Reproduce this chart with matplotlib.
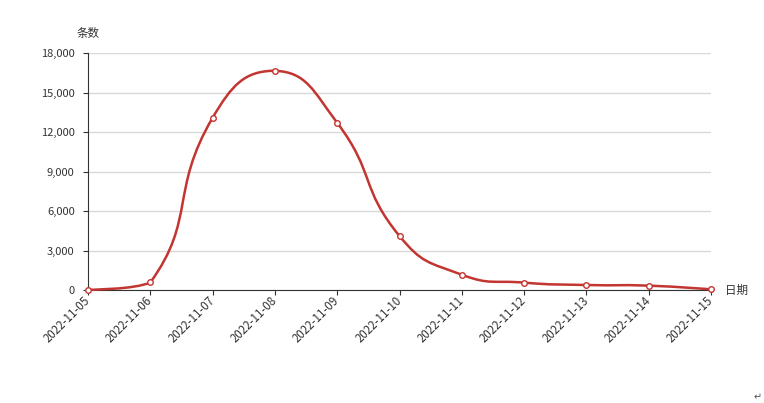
import matplotlib
matplotlib.use("Agg")
from matplotlib import pyplot as plt
from matplotlib.path import Path
from matplotlib.patches import PathPatch
import numpy as np

plt.rcParams['font.family'] = ['Noto Sans CJK SC', 'DejaVu Sans']

dates = ['2022-11-05', '2022-11-06', '2022-11-07', '2022-11-08', '2022-11-09', '2022-11-10',
         '2022-11-11', '2022-11-12', '2022-11-13', '2022-11-14', '2022-11-15']
counts = [20, 570, 13080, 16650, 12700, 4100, 1160, 560, 380, 330, 50]
y_ticks = [0, 3000, 6000, 9000, 12000, 15000, 18000]

line_color = '#c23531'
text_color = '#333333'
axis_color = '#333333'


def smooth_path(xs, ys, sx, sy, smooth=0.5):
    # bezier smoothing with control points kept inside the data's bounding box
    px = np.asarray(xs, float) * sx
    py = np.asarray(ys, float) * sy
    lo = np.array([px.min(), py.min()])
    hi = np.array([px.max(), py.max()])
    pts = np.column_stack([px, py])
    n = len(pts)
    cps = []
    for i in range(n):
        if i == 0 or i == n - 1:
            cps.append((pts[i], pts[i]))
            continue
        v = (pts[i + 1] - pts[i - 1]) * smooth
        d0 = np.linalg.norm(pts[i] - pts[i - 1])
        d1 = np.linalg.norm(pts[i + 1] - pts[i])
        s = d0 + d1
        d0, d1 = d0 / s, d1 / s
        c0 = np.clip(pts[i] - v * d0, lo, hi)
        c1 = np.clip(pts[i] + v * d1, lo, hi)
        cps.append((c0, c1))
    verts = [pts[0]]
    codes = [Path.MOVETO]
    for i in range(n - 1):
        verts += [cps[i][1], cps[i + 1][0], pts[i + 1]]
        codes += [Path.CURVE4] * 3
    verts = [(a / sx, b / sy) for a, b in verts]
    return Path(verts, codes)


fig = plt.figure(figsize=(7.64, 4.03), dpi=100)
ax = fig.add_axes([88 / 764, 1 - 290 / 403, 623 / 764, 237 / 403])

x = np.arange(len(dates))
ax.set_xlim(0, len(dates) - 1)
ax.set_ylim(0, 18000)

path = smooth_path(x, counts, 623 / (len(dates) - 1), 237 / 18000)
ax.add_patch(PathPatch(path, facecolor='none', edgecolor=line_color, lw=1.8, zorder=3,
                       clip_on=False))
ax.plot(x, counts, ls='none', marker='o', ms=4, mfc='white', mec=line_color, mew=1,
        zorder=4, clip_on=False)

ax.set_yticks(y_ticks)
ax.set_yticklabels([f'{v:,}' for v in y_ticks])
ax.set_xticks(x)
ax.set_xticklabels(dates, rotation=45, ha='right', va='center', rotation_mode='anchor',
                   fontsize=8.3)

ax.grid(axis='y', color='#d9d9d9', lw=1)
ax.set_axisbelow(True)
for s in ['top', 'right']:
    ax.spines[s].set_visible(False)
ax.spines['left'].set_color(axis_color)
ax.spines['bottom'].set_color(axis_color)
ax.tick_params(axis='both', colors=axis_color, labelcolor=text_color, length=3.6)
ax.tick_params(axis='y', labelsize=8, pad=6)
ax.tick_params(axis='x', pad=2.5)

fig.text(88 / 764, 1 - 33 / 403, '条数', ha='center', va='center', fontsize=8.3, color=text_color)
fig.text(725 / 764, 1 - 290 / 403, '日期', ha='left', va='center', fontsize=8.3, color=text_color)
fig.text(758 / 764, 1 - 397 / 403, '↵', ha='center', va='center', fontsize=7, color='#555555',
         family=['DejaVu Sans'])

fig.savefig('out.png', dpi=100, facecolor='white')
